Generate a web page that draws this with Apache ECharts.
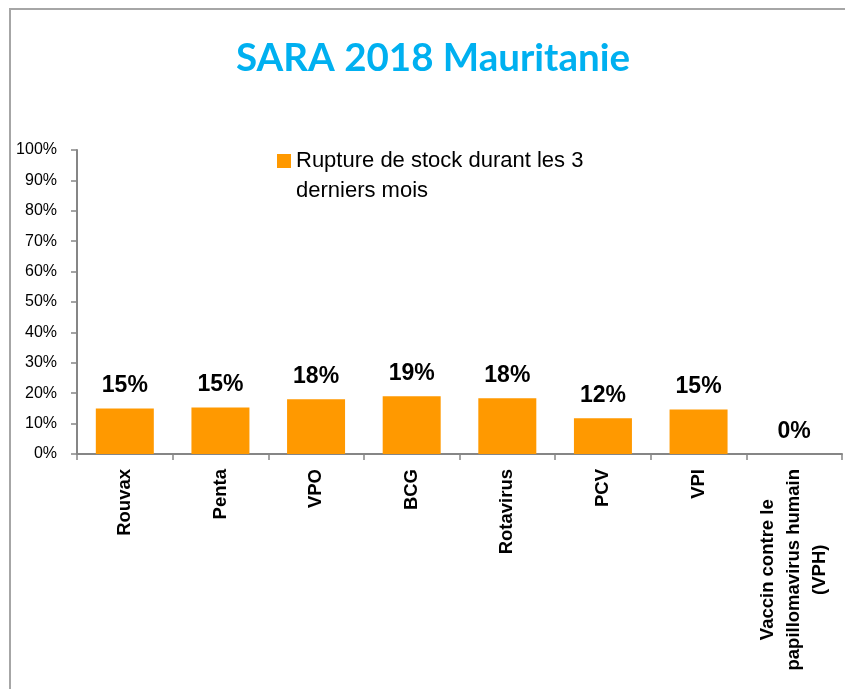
<!DOCTYPE html>
<html>
<head>
<meta charset="utf-8">
<script src="https://cdn.jsdelivr.net/npm/echarts@6.0.0/dist/echarts.min.js"></script>
<style>
  html, body { margin: 0; padding: 0; background: #fff; }
  #chart { width: 845px; height: 689px; }
</style>
</head>
<body>
<div id="chart"></div>
<script>
// data
var titleText = 'SARA 2018 Mauritanie';
var seriesName = 'Rupture de stock durant les 3\nderniers mois';
var categories = ['Rouvax', 'Penta', 'VPO', 'BCG', 'Rotavirus', 'PCV', 'VPI',
  'Vaccin contre le\npapillomavirus humain\n(VPH)'];
var ruptureValues = [15.0, 15.3, 18.0, 19.0, 18.3, 11.8, 14.6, 0];
var yTicks = [0, 10, 20, 30, 40, 50, 60, 70, 80, 90, 100];

var chart = echarts.init(document.getElementById('chart'), null, { renderer: 'canvas' });

var axisGray = '#868686';
var orange = '#FF9900';
var sans = '"Liberation Sans", Arial, sans-serif';

chart.setOption({
  backgroundColor: '#fff',
  animation: false,
  title: {
    text: titleText,
    left: 231,
    top: 34,
    textStyle: { fontFamily: 'Lato, "Open Sans", sans-serif', fontWeight: 'bold', fontSize: 38.5, color: '#00B0F0' }
  },
  legend: {
    left: 277,
    top: 146,
    padding: 0,
    itemWidth: 14,
    itemHeight: 44,
    itemGap: 0,
    // square at the top of a tall icon box, so it sits beside the first text line
    icon: 'path://M0,0H14V14H0Z M0,44L0.01,44',
    textStyle: { fontFamily: sans, fontSize: 22, lineHeight: 30, color: '#000' },
    data: [seriesName]
  },
  graphic: [
    { type: 'line', shape: { x1: 9, y1: 9, x2: 845, y2: 9 }, style: { stroke: '#A6A6A6', lineWidth: 2 }, silent: true },
    { type: 'line', shape: { x1: 10, y1: 9, x2: 10, y2: 689 }, style: { stroke: '#A6A6A6', lineWidth: 2 }, silent: true }
  ],
  grid: { left: 77, right: 3, top: 150, bottom: 235, containLabel: false },
  xAxis: {
    type: 'category',
    data: categories,
    boundaryGap: true,
    axisLine: { lineStyle: { color: axisGray, width: 2 } },
    axisTick: { show: true, alignWithLabel: false, length: 6, lineStyle: { color: axisGray, width: 1.5 } },
    axisLabel: {
      rotate: 90,
      interval: 0,
      margin: 15,
      color: '#000',
      fontFamily: sans,
      fontWeight: 'bold',
      fontSize: 18.5,
      lineHeight: 26,
      formatter: function (v) {
        return v.split('\n').map(function (s) { return '{c|' + s + '}'; }).join('\n');
      },
      rich: {
        c: { align: 'center', fontFamily: sans, fontWeight: 'bold', fontSize: 18.5, lineHeight: 26, color: '#000' }
      }
    },
    splitLine: { show: false }
  },
  yAxis: {
    type: 'value',
    min: yTicks[0],
    max: yTicks[yTicks.length - 1],
    interval: yTicks[1] - yTicks[0],
    axisLine: { show: true, lineStyle: { color: axisGray, width: 2 } },
    axisTick: { show: true, length: 6, lineStyle: { color: axisGray, width: 1.5 } },
    axisLabel: {
      margin: 20,
      color: '#000',
      fontFamily: sans,
      fontSize: 16,
      formatter: function (v) { return v + '%'; }
    },
    splitLine: { show: false }
  },
  series: [{
    name: seriesName,
    type: 'bar',
    data: ruptureValues,
    barWidth: 58,
    itemStyle: { color: orange },
    label: {
      show: true,
      position: 'top',
      distance: 11,
      color: '#000',
      fontFamily: sans,
      fontWeight: 'bold',
      fontSize: 23,
      formatter: function (p) { return Math.round(p.value) + '%'; }
    }
  }]
});
</script>
</body>
</html>
